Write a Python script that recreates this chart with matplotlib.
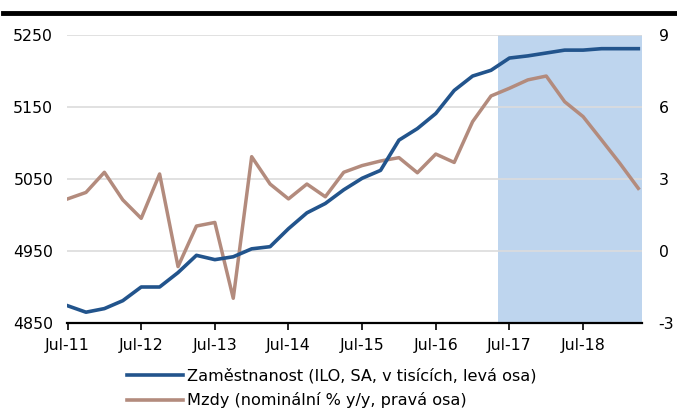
import matplotlib
matplotlib.use("Agg")
import matplotlib.pyplot as plt
from matplotlib.lines import Line2D

plt.rcParams['font.family'] = ['DejaVu Sans']

# Quarterly data, Q3 2011 .. Q2 2019
employment = [4874, 4865, 4870, 4881, 4900, 4900, 4920, 4944, 4938, 4942,
              4953, 4956, 4981, 5003, 5016, 5035, 5051, 5062, 5104, 5120,
              5141, 5173, 5193, 5201, 5218, 5221, 5225, 5229, 5229, 5231,
              5231, 5231]
wages = [2.17, 2.44, 3.28, 2.13, 1.36, 3.21, -0.65, 1.04, 1.19, -1.97,
         3.93, 2.79, 2.17, 2.79, 2.26, 3.28, 3.56, 3.75, 3.89, 3.26,
         4.04, 3.69, 5.39, 6.46, 6.78, 7.13, 7.29, 6.22, 5.60, 4.63,
         3.65, 2.61]
tick_labels = ["Jul-11", "Jul-12", "Jul-13", "Jul-14", "Jul-15", "Jul-16",
               "Jul-17", "Jul-18"]
tick_idx = [0, 4, 8, 12, 16, 20, 24, 28]
forecast_from = 23.4
left_ticks = [4850, 4950, 5050, 5150, 5250]
right_ticks = [-3, 0, 3, 6, 9]
label_emp = "Zaměstnanost (ILO, SA, v tisících, levá osa)"
label_wage = "Mzdy (nominální % y/y, pravá osa)"

blue = "#22548C"
brown = "#B38B7D"
shade = "#BED5EE"
grid = "#DCDCDC"

W, H = 677, 412
fig = plt.figure(figsize=(W / 100, H / 100), dpi=100)
ax2 = fig.add_axes([67 / W, (H - 323) / H, 575 / W, 288 / H])
ax2.yaxis.tick_right()
ax = fig.add_axes([67 / W, (H - 323) / H, 575 / W, 288 / H], sharex=ax2)
ax.patch.set_visible(False)

x = list(range(len(employment)))
xmax = 31.2
ax2.set_xlim(-0.03, xmax)
ax.set_ylim(4850, 5250)
ax2.set_ylim(-3, 9)

ax2.axvspan(forecast_from, xmax, color=shade, zorder=0, lw=0)
for v in right_ticks[1:]:
    ax2.axhline(v, color=grid, lw=1.2, zorder=1)

ax2.plot(x, wages, color=brown, lw=2.5, zorder=3, solid_joinstyle='round')
ax.plot(x, employment, color=blue, lw=2.6, zorder=3, solid_joinstyle='round')

ax.set_yticks(left_ticks)
ax.set_yticklabels([str(v) for v in left_ticks])
ax2.set_yticks(right_ticks)
ax2.set_yticklabels([str(v) for v in right_ticks])
ax2.set_xticks(tick_idx)
ax2.set_xticklabels(tick_labels)

fs = 11.3
ax.tick_params(axis='y', length=0, labelsize=fs, pad=10)
ax2.tick_params(axis='y', length=0, labelsize=fs, pad=12)
ax2.tick_params(axis='x', length=5, width=1.2, direction='out', labelsize=fs, pad=6)
ax.tick_params(axis='x', bottom=False, labelbottom=False)

for a in (ax, ax2):
    for s in ('left', 'right', 'top', 'bottom'):
        a.spines[s].set_visible(False)
ax2.spines['bottom'].set_visible(True)
ax2.spines['bottom'].set_linewidth(1.6)
ax2.spines['bottom'].set_color('black')

handles = [Line2D([], [], color=blue, lw=2.6), Line2D([], [], color=brown, lw=2.6)]
fig.legend(handles, [label_emp, label_wage], loc='upper left',
           bbox_to_anchor=(127 / W, (H - 368) / H), frameon=False,
           fontsize=11.6, handlelength=3.5, handletextpad=0.25, labelspacing=0.55,
           borderaxespad=0, borderpad=0)

# top rule
fig.add_artist(Line2D([3 / W, 1.0], [(H - 12.5) / H] * 2, color='black', lw=3.5,
                      transform=fig.transFigure))

fig.savefig("out.png", dpi=100)
